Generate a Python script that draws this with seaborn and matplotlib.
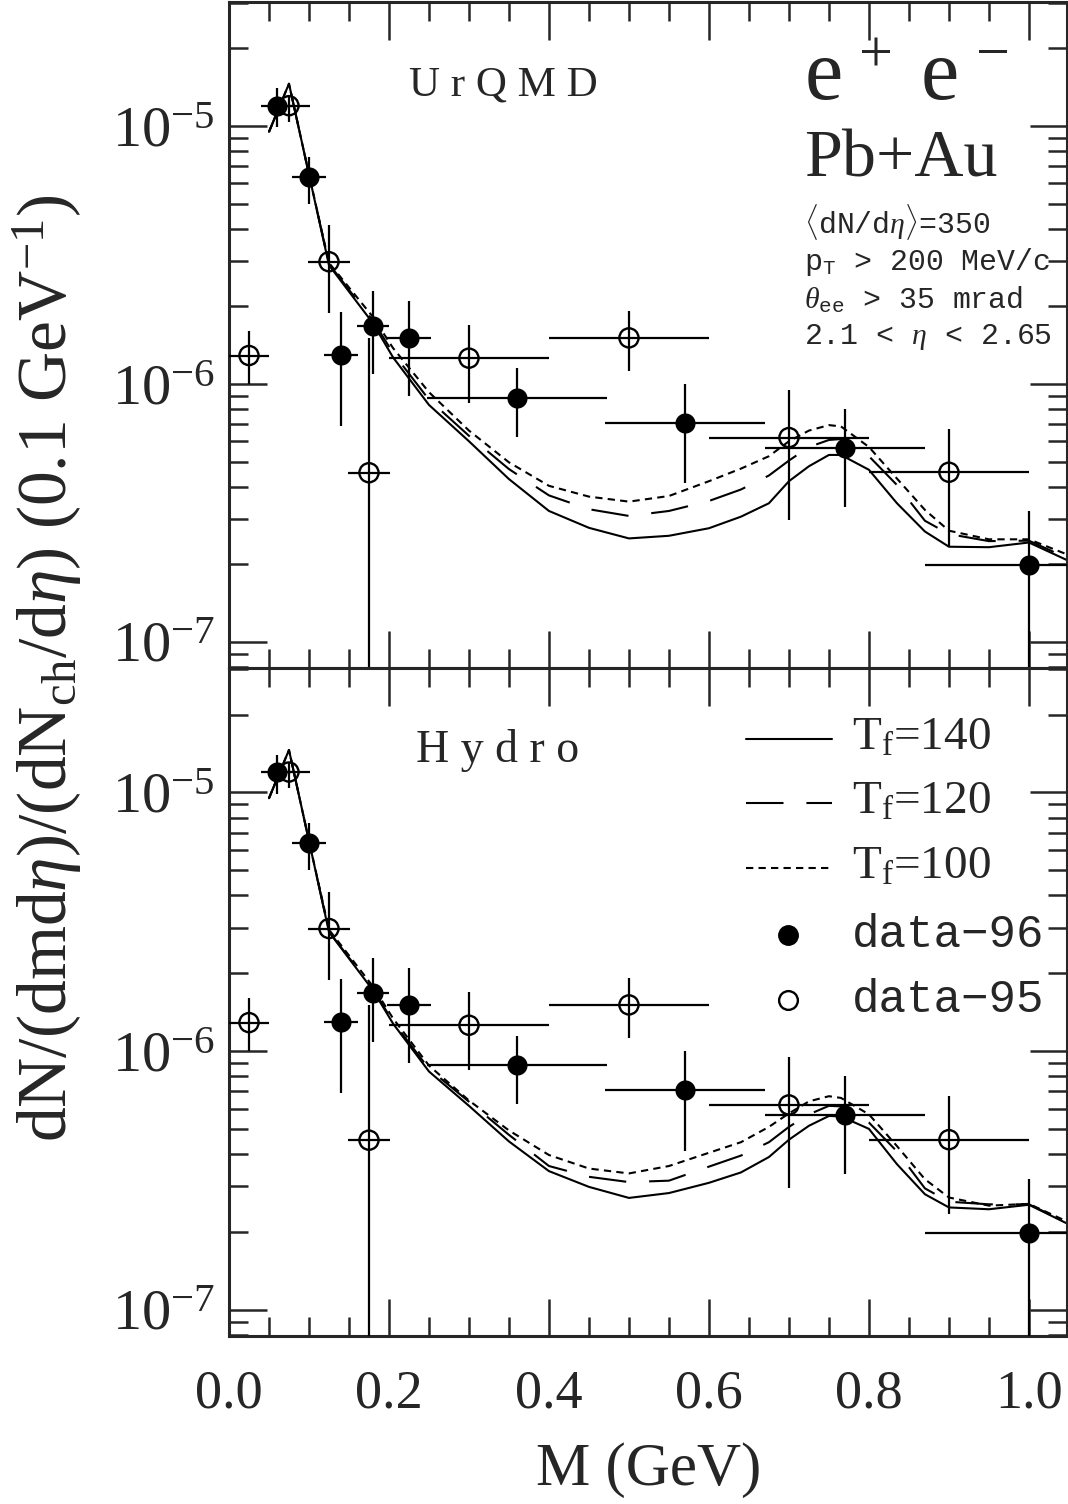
import numpy as np
import pandas as pd
import seaborn as sns
import matplotlib
matplotlib.use("Agg")
import matplotlib.pyplot as plt
from matplotlib.ticker import LogLocator, MultipleLocator, NullFormatter

# ---- data ----
# CERES data-96 (filled circles)
m96 = [0.06, 0.10, 0.14, 0.18, 0.225, 0.36, 0.57, 0.77, 1.00]
y96 = [1.20e-5, 6.36e-6, 1.30e-6, 1.68e-6, 1.51e-6, 8.85e-7, 7.07e-7, 5.67e-7, 1.99e-7]
y96_lo = [9.9e-6, 5.0e-6, 6.9e-7, 1.09e-6, 9.0e-7, 6.25e-7, 4.13e-7, 3.35e-7, 1e-9]
y96_hi = [1.40e-5, 7.6e-6, 1.90e-6, 2.29e-6, 2.10e-6, 1.15e-6, 1.0e-6, 8.0e-7, 3.21e-7]
dm96 = [0.02, 0.021, 0.021, 0.02, 0.027, 0.112, 0.10, 0.10, 0.13]

# CERES data-95 (open circles)
m95 = [0.025, 0.075, 0.125, 0.175, 0.30, 0.50, 0.70, 0.90]
y95 = [1.29e-6, 1.20e-5, 2.98e-6, 4.53e-7, 1.26e-6, 1.51e-6, 6.2e-7, 4.55e-7]
y95_lo = [1.0e-6, 1.04e-5, 1.88e-6, 1e-9, 8.44e-7, 1.12e-6, 2.97e-7, 2.34e-7]
y95_hi = [1.60e-6, 1.30e-5, 4.13e-6, 1.51e-6, 1.69e-6, 1.92e-6, 9.5e-7, 6.7e-7]
dm95 = [0.025, 0.026, 0.026, 0.026, 0.10, 0.10, 0.10, 0.10]

# model curves (same mass grid for all)
m_grid = [0.05, 0.075, 0.10, 0.125, 0.18, 0.205, 0.25, 0.30, 0.35, 0.40, 0.45, 0.50,
          0.55, 0.60, 0.64, 0.675, 0.70, 0.725, 0.75, 0.765, 0.80, 0.835, 0.87,
          0.90, 0.95, 1.00, 1.05]

urqmd_140 = [9.5e-6, 1.46e-5, 6.5e-6, 2.89e-6, 1.72e-6, 1.27e-6, 8.3e-7, 6.0e-7, 4.28e-7,
             3.22e-7, 2.77e-7, 2.52e-7, 2.58e-7, 2.76e-7, 3.06e-7, 3.45e-7, 4.2e-7, 4.8e-7,
             5.31e-7, 5.31e-7, 4.65e-7, 3.45e-7, 2.68e-7, 2.34e-7, 2.33e-7, 2.43e-7, 2.06e-7]
urqmd_120 = [9.5e-6, 1.46e-5, 6.5e-6, 2.92e-6, 1.76e-6, 1.32e-6, 8.7e-7, 6.3e-7, 4.68e-7,
             3.7e-7, 3.27e-7, 3.08e-7, 3.22e-7, 3.52e-7, 3.9e-7, 4.42e-7, 5.05e-7, 5.7e-7,
             6.07e-7, 6.12e-7, 5.25e-7, 4.06e-7, 2.95e-7, 2.62e-7, 2.46e-7, 2.47e-7, 2.1e-7]
urqmd_100 = [9.5e-6, 1.46e-5, 6.5e-6, 2.95e-6, 1.82e-6, 1.38e-6, 9.3e-7, 6.6e-7, 4.97e-7,
             4.03e-7, 3.66e-7, 3.5e-7, 3.68e-7, 4.2e-7, 4.7e-7, 5.25e-7, 6.0e-7, 6.6e-7,
             6.93e-7, 6.85e-7, 5.7e-7, 4.3e-7, 3.25e-7, 2.7e-7, 2.5e-7, 2.5e-7, 2.17e-7]

hydro_140 = [9.5e-6, 1.46e-5, 6.5e-6, 2.89e-6, 1.72e-6, 1.28e-6, 8.35e-7, 6.15e-7, 4.48e-7,
             3.44e-7, 2.99e-7, 2.71e-7, 2.83e-7, 3.1e-7, 3.4e-7, 3.9e-7, 4.55e-7, 5.15e-7,
             5.62e-7, 5.6e-7, 5.01e-7, 3.66e-7, 2.8e-7, 2.49e-7, 2.45e-7, 2.55e-7, 2.14e-7]
hydro_120 = [9.5e-6, 1.46e-5, 6.5e-6, 2.9e-6, 1.74e-6, 1.3e-6, 8.55e-7, 6.38e-7, 4.75e-7,
             3.6e-7, 3.27e-7, 3.12e-7, 3.16e-7, 3.58e-7, 3.95e-7, 4.45e-7, 5.1e-7, 5.7e-7,
             6.15e-7, 6.12e-7, 5.3e-7, 4.1e-7, 2.95e-7, 2.62e-7, 2.56e-7, 2.56e-7, 2.16e-7]
hydro_100 = [9.5e-6, 1.46e-5, 6.5e-6, 2.95e-6, 1.78e-6, 1.34e-6, 8.8e-7, 6.45e-7, 4.94e-7,
             3.97e-7, 3.52e-7, 3.37e-7, 3.6e-7, 4.05e-7, 4.45e-7, 5.1e-7, 5.75e-7, 6.4e-7,
             6.7e-7, 6.6e-7, 5.7e-7, 4.3e-7, 3.2e-7, 2.72e-7, 2.53e-7, 2.57e-7, 2.18e-7]

tf_labels = ["140", "120", "100"]
legend_labels = [r"T$_{\mathregular{f}}$=140", r"T$_{\mathregular{f}}$=120",
                 r"T$_{\mathregular{f}}$=100", "data\u221296", "data\u221295"]

# ---- style ----
sns.set_style("ticks")
plt.rcParams["font.family"] = ["Liberation Serif", "DejaVu Serif"]
plt.rcParams["mathtext.fontset"] = "custom"
plt.rcParams["mathtext.rm"] = "Liberation Serif"
plt.rcParams["mathtext.it"] = "Liberation Serif:italic"
plt.rcParams["mathtext.tt"] = "Liberation Mono"
plt.rcParams["axes.linewidth"] = 2.2

dash_map = {"140": "", "120": (18, 11), "100": (3.5, 2.5)}
MONO = ["Liberation Mono", "DejaVu Sans Mono", "DejaVu Sans"]


def curves_frame(v140, v120, v100):
    parts = []
    for lab, vals in zip(tf_labels, [v140, v120, v100]):
        parts.append(pd.DataFrame({"M": m_grid, "val": vals, "Tf": lab}))
    return pd.concat(parts, ignore_index=True)


def draw_panel(ax, df):
    sns.lineplot(data=df, x="M", y="val", style="Tf", style_order=tf_labels,
                 dashes=dash_map, color="black", linewidth=1.5, estimator=None,
                 sort=False, legend=False, ax=ax, zorder=2)
    # error bars
    y = np.array(y96)
    ax.errorbar(m96, y96, yerr=[y - np.array(y96_lo), np.array(y96_hi) - y],
                xerr=dm96, fmt="none", ecolor="black", elinewidth=1.6, capsize=0, zorder=3)
    y = np.array(y95)
    ax.errorbar(m95, y95, yerr=[y - np.array(y95_lo), np.array(y95_hi) - y],
                xerr=dm95, fmt="none", ecolor="black", elinewidth=1.6, capsize=0, zorder=3)
    sns.scatterplot(x=m96, y=y96, marker="o", s=210, color="black",
                    edgecolor="black", linewidth=0, ax=ax, zorder=4)
    sns.scatterplot(x=m95, y=y95, marker="o", s=190, color="black",
                    facecolors="none", edgecolor="black", linewidth=1.7, ax=ax, zorder=4)

    ax.set_yscale("log")
    ax.set_xlim(0, 1.0475)
    ax.set_ylim(7.93e-8, 3.03e-5)
    ax.xaxis.set_major_locator(MultipleLocator(0.2))
    ax.xaxis.set_minor_locator(MultipleLocator(0.05))
    ax.yaxis.set_major_locator(LogLocator(base=10))
    ax.yaxis.set_minor_locator(LogLocator(base=10, subs=np.arange(2, 10)))
    ax.yaxis.set_minor_formatter(NullFormatter())
    ax.tick_params(which="both", direction="in", top=True, right=True, width=1.8)
    ax.tick_params(which="major", length=27)
    ax.tick_params(which="minor", length=14)
    ax.tick_params(axis="y", which="major", labelsize=42, pad=10)
    ax.tick_params(axis="x", which="major", labelsize=39, pad=24)
    ax.set_xlabel("")
    ax.set_ylabel("")


fig = plt.figure(figsize=(10.68, 15.04), dpi=100)
ax_top = fig.add_axes([0.2144, 0.5559, 0.7846, 0.4428])
ax_bot = fig.add_axes([0.2144, 0.1117, 0.7846, 0.4442])

draw_panel(ax_top, curves_frame(urqmd_140, urqmd_120, urqmd_100))
draw_panel(ax_bot, curves_frame(hydro_140, hydro_120, hydro_100))
ax_top.tick_params(axis="x", labelbottom=False)

# panel texts
ax_top.text(0.327, 0.875, "U r Q M D", transform=ax_top.transAxes, ha="center", va="center",
            fontsize=31)
ax_bot.text(0.320, 0.877, "H y d r o", transform=ax_bot.transAxes, ha="center", va="center",
            fontsize=33)
ax_top.text(0.6865, 0.885, r"$\mathregular{e^{\,+}\;e^{\,-}}$", transform=ax_top.transAxes,
            ha="left", va="center", fontsize=62)
ax_top.text(0.6865, 0.763, "Pb+Au", transform=ax_top.transAxes, ha="left", va="center",
            fontsize=49)
info = [r"$\langle$dN/d$\eta\rangle$=350",
        r"p$_{\mathtt{T}}$ > 200 MeV/c",
        r"$\theta_{\mathtt{ee}}$ > 35 mrad",
        r"2.1 < $\eta$ < 2.65"]
for txt, yy in zip(info, [0.6697, 0.6096, 0.5526, 0.497]):
    ax_top.text(0.6865, yy, txt, transform=ax_top.transAxes, ha="left", va="center",
                fontsize=21.5, family=MONO)

# legend (bottom panel), drawn by hand to keep the row spacing
row_y = [(1336 - p) / 668 for p in [739, 803, 868, 935, 1000]]
x0, x1 = (747 - 229) / 839, (833 - 229) / 839
xt = (853 - 229) / 839
for i, lab in enumerate(tf_labels):
    ax_bot.plot([x0, x1], [row_y[i], row_y[i]], transform=ax_bot.transAxes, color="black",
                linewidth=1.5, dashes=dash_map[lab] if dash_map[lab] else (None, None))
    ax_bot.text(xt, row_y[i], legend_labels[i], transform=ax_bot.transAxes,
                ha="left", va="center", fontsize=34)
xm = (789 - 229) / 839
ax_bot.plot([xm], [row_y[3]], transform=ax_bot.transAxes, marker="o", ms=14,
            color="black", linestyle="none")
ax_bot.plot([xm], [row_y[4]], transform=ax_bot.transAxes, marker="o", ms=13.5,
            markerfacecolor="none", markeredgecolor="black", mew=1.7, linestyle="none")
for i in (3, 4):
    ax_bot.text(xt, row_y[i], legend_labels[i], transform=ax_bot.transAxes,
                ha="left", va="center", fontsize=33, family=MONO)

fig.text(0.044, 0.556, r"dN/(dmd$\eta$)/(dN$_{\mathregular{ch}}$/d$\eta$) (0.1 GeV$^{\mathregular{-1}}$)",
         rotation=90, ha="center", va="center", fontsize=50)
fig.text(0.607, 0.0226, "M (GeV)", ha="center", va="center", fontsize=44)

fig.savefig("out.png", dpi=100)
